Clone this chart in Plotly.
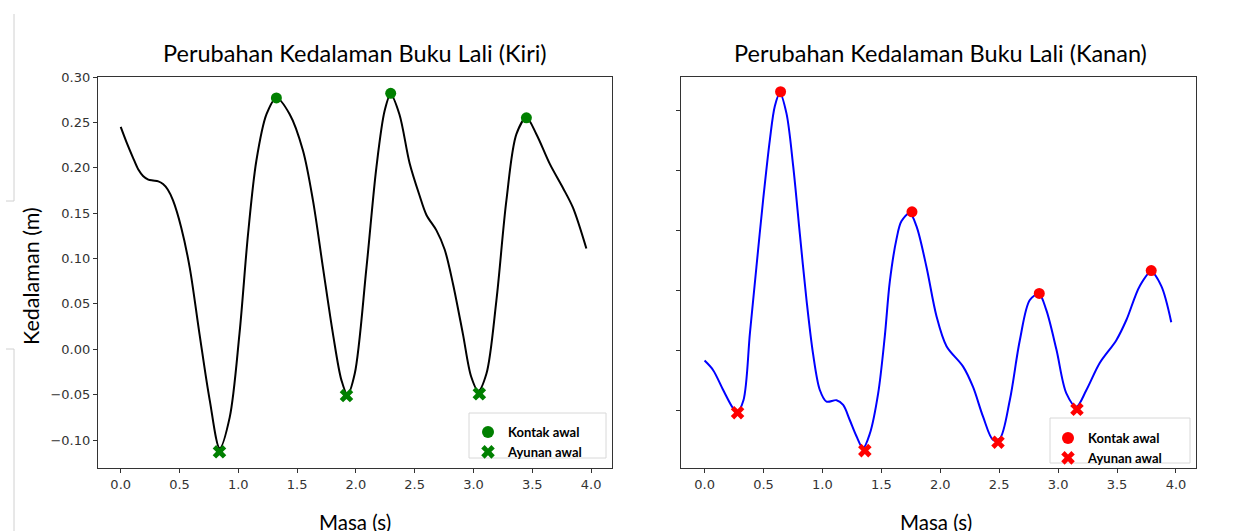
import plotly.graph_objects as go

W, H = 1248, 531

# ---------------- data ----------------
left_t = [0.0, 0.05, 0.105, 0.15, 0.19, 0.235, 0.275, 0.32, 0.36, 0.40, 0.445, 0.515, 0.587, 0.67, 0.757, 0.842, 0.927,
          1.01, 1.083, 1.154, 1.24, 1.324, 1.437, 1.55, 1.635, 1.72, 1.805, 1.877, 1.928,
          1.99, 2.09, 2.174, 2.245, 2.296, 2.37, 2.457, 2.54, 2.60, 2.685, 2.755, 2.826,
          2.91, 2.98, 3.04, 3.11, 3.195, 3.28, 3.365, 3.45, 3.535, 3.65, 3.76, 3.846, 3.96]
left_y = [0.245, 0.228, 0.211, 0.198, 0.191, 0.187, 0.186, 0.185, 0.182, 0.176, 0.164, 0.134, 0.090, 0.017, -0.056, -0.109, -0.075,
          0.017, 0.127, 0.208, 0.259, 0.277, 0.259, 0.219, 0.164, 0.090, 0.017, -0.034, -0.050,
          -0.027, 0.090, 0.200, 0.263, 0.281, 0.259, 0.205, 0.170, 0.148, 0.131, 0.110, 0.072,
          0.017, -0.030, -0.046, -0.027, 0.054, 0.164, 0.237, 0.255, 0.237, 0.204, 0.178, 0.156, 0.111]

left_contact_t = [1.324, 2.296, 3.45]
left_contact_y = [0.277, 0.282, 0.255]
left_swing_t = [0.84, 1.92, 3.05]
left_swing_y = [-0.113, -0.051, -0.049]

right_t = [0.0, 0.073, 0.158, 0.243, 0.277, 0.33, 0.385, 0.44, 0.497, 0.554, 0.596, 0.639,
           0.695, 0.752, 0.808, 0.865, 0.92, 0.978, 1.035, 1.12, 1.176, 1.232, 1.289, 1.345,
           1.402, 1.473, 1.529, 1.572, 1.628, 1.67, 1.741, 1.798, 1.883, 1.968, 2.053, 2.194,
           2.278, 2.363, 2.448, 2.505, 2.59, 2.675, 2.76, 2.838, 2.90, 2.986, 3.07, 3.155,
           3.24, 3.353, 3.494, 3.58, 3.692, 3.79, 3.876, 3.96]
right_y = [0.042, 0.034, 0.0175, 0.0022, -0.0006, 0.009, 0.065, 0.120, 0.176, 0.226, 0.254, 0.265,
           0.248, 0.204, 0.148, 0.0925, 0.048, 0.0175, 0.0078, 0.009, 0.005, -0.0075, -0.021, -0.031,
           -0.019, 0.0147, 0.062, 0.108, 0.143, 0.158, 0.165, 0.154, 0.120, 0.079, 0.054, 0.037,
           0.020, -0.0047, -0.024, -0.023, 0.009, 0.059, 0.0925, 0.0975, 0.084, 0.051, 0.0147, 0.0036,
           0.0175, 0.040, 0.059, 0.076, 0.104, 0.116, 0.104, 0.074]

right_contact_t = [0.645, 1.76, 2.84, 3.79]
right_contact_y = [0.266, 0.166, 0.098, 0.117]
right_swing_t = [0.28, 1.36, 2.49, 3.16]
right_swing_y = [-0.0014, -0.033, -0.026, 0.0014]

x_ticks = [0.0, 0.5, 1.0, 1.5, 2.0, 2.5, 3.0, 3.5, 4.0]
x_ticktext = ["0.0", "0.5", "1.0", "1.5", "2.0", "2.5", "3.0", "3.5", "4.0"]
left_yticks = [-0.10, -0.05, 0.00, 0.05, 0.10, 0.15, 0.20, 0.25, 0.30]
left_yticktext = ["\u22120.10", "\u22120.05", "0.00", "0.05", "0.10", "0.15", "0.20", "0.25", "0.30"]
right_yticks = [0.00, 0.05, 0.10, 0.15, 0.20, 0.25]

title_left = "Perubahan Kedalaman Buku Lali (Kiri)"
title_right = "Perubahan Kedalaman Buku Lali (Kanan)"
label_contact = "Kontak awal"
label_swing = "Ayunan awal"
x_title = "Masa (s)"
y_title = "Kedalaman (m)"

# ---------------- figure ----------------
def px(x):
    return x / W

def py(y):
    return 1 - y / H

fig = go.Figure()

fig.add_trace(go.Scatter(x=left_t, y=left_y, mode="lines", line=dict(color="black", width=2, shape="spline", smoothing=0.9),
                         showlegend=False, xaxis="x", yaxis="y", hoverinfo="skip"))
fig.add_trace(go.Scatter(x=left_contact_t, y=left_contact_y, mode="markers", name=label_contact,
                         marker=dict(symbol="circle", size=11, color="green"), xaxis="x", yaxis="y", legend="legend"))
fig.add_trace(go.Scatter(x=left_swing_t, y=left_swing_y, mode="markers", name=label_swing,
                         marker=dict(symbol="x", size=12, color="green"), xaxis="x", yaxis="y", legend="legend"))

fig.add_trace(go.Scatter(x=right_t, y=right_y, mode="lines", line=dict(color="blue", width=2, shape="spline", smoothing=0.9),
                         showlegend=False, xaxis="x2", yaxis="y2", hoverinfo="skip"))
fig.add_trace(go.Scatter(x=right_contact_t, y=right_contact_y, mode="markers", name=label_contact,
                         marker=dict(symbol="circle", size=11, color="red"), xaxis="x2", yaxis="y2", legend="legend2"))
fig.add_trace(go.Scatter(x=right_swing_t, y=right_swing_y, mode="markers", name=label_swing,
                         marker=dict(symbol="x", size=12, color="red"), xaxis="x2", yaxis="y2", legend="legend2"))

tickfont = dict(family="DejaVu Sans", size=13, color="#333333")
axis_common = dict(showgrid=False, zeroline=False, showline=True, mirror=True, linecolor="#333333", linewidth=1.3,
                   ticks="outside", ticklen=4, tickcolor="#333333", tickfont=tickfont, automargin=False)

ydom = [py(468), py(77)]
legend_font = dict(family="Lato", size=13, color="black", weight="bold")
fig.update_layout(
    width=W, height=H,
    margin=dict(l=0, r=0, t=0, b=0, autoexpand=False),
    paper_bgcolor="white", plot_bgcolor="white",
    xaxis=dict(domain=[px(98), px(612)], range=[-0.193, 4.178], tickvals=x_ticks, ticktext=x_ticktext,
               anchor="y", **axis_common),
    yaxis=dict(domain=ydom, range=[-0.1308, 0.3], tickvals=left_yticks, ticktext=left_yticktext,
               anchor="x", **axis_common),
    xaxis2=dict(domain=[px(681), px(1196)], range=[-0.2, 4.17], tickvals=x_ticks, ticktext=x_ticktext,
                anchor="y2", **axis_common),
    yaxis2=dict(domain=ydom, range=[-0.0475, 0.2783], tickvals=right_yticks, showticklabels=False,
                anchor="x2", **axis_common),
    legend=dict(x=px(468), xanchor="left", y=py(417), yanchor="top",
                bgcolor="rgba(0,0,0,0)", borderwidth=0, font=legend_font,
                itemsizing="constant", tracegroupgap=0),
    legend2=dict(x=px(1048), xanchor="left", y=py(423), yanchor="top",
                 bgcolor="rgba(0,0,0,0)", borderwidth=0, font=legend_font,
                 itemsizing="constant", tracegroupgap=0),
    annotations=[
        dict(text=title_left, x=px(355), y=py(53), xref="paper", yref="paper", showarrow=False, xanchor="center",
             yanchor="middle", font=dict(family="Lato", size=23.5, color="black")),
        dict(text=title_right, x=px(940), y=py(53), xref="paper", yref="paper", showarrow=False, xanchor="center",
             yanchor="middle", font=dict(family="Lato", size=23.5, color="black")),
        dict(text=x_title, x=px(355), y=py(508), xref="paper", yref="paper", showarrow=False, xanchor="center",
             yanchor="top", font=dict(family="Lato", size=20.5, color="black")),
        dict(text=x_title, x=px(936), y=py(508), xref="paper", yref="paper", showarrow=False, xanchor="center",
             yanchor="top", font=dict(family="Lato", size=20.5, color="black")),
        dict(text=y_title, x=px(31), y=py(276), xref="paper", yref="paper", showarrow=False, textangle=-90,
             xanchor="center", yanchor="middle", font=dict(family="Lato", size=21.5, color="black")),
    ],
    shapes=[
        # legend frames
        dict(type="rect", xref="paper", yref="paper", x0=px(469), x1=px(606), y0=py(458), y1=py(413),
             fillcolor="white", line=dict(color="#d8d8d8", width=1), layer="above"),
        dict(type="rect", xref="paper", yref="paper", x0=px(1050), x1=px(1190), y0=py(463), y1=py(418),
             fillcolor="white", line=dict(color="#d8d8d8", width=1), layer="above"),
        # faint page edge marks
        dict(type="line", xref="paper", yref="paper", x0=px(14), x1=px(14), y0=py(14), y1=py(201),
             line=dict(color="#d0d0d0", width=1)),
        dict(type="line", xref="paper", yref="paper", x0=px(6), x1=px(14), y0=py(201), y1=py(201),
             line=dict(color="#d0d0d0", width=1)),
        dict(type="line", xref="paper", yref="paper", x0=px(6), x1=px(14), y0=py(349), y1=py(349),
             line=dict(color="#d0d0d0", width=1)),
        dict(type="line", xref="paper", yref="paper", x0=px(14), x1=px(14), y0=py(349), y1=py(531),
             line=dict(color="#d0d0d0", width=1)),
    ],
)

fig.write_html("out.html", config={"displayModeBar": False},
               post_script="document.body.style.margin='0';document.body.style.overflow='hidden';")
